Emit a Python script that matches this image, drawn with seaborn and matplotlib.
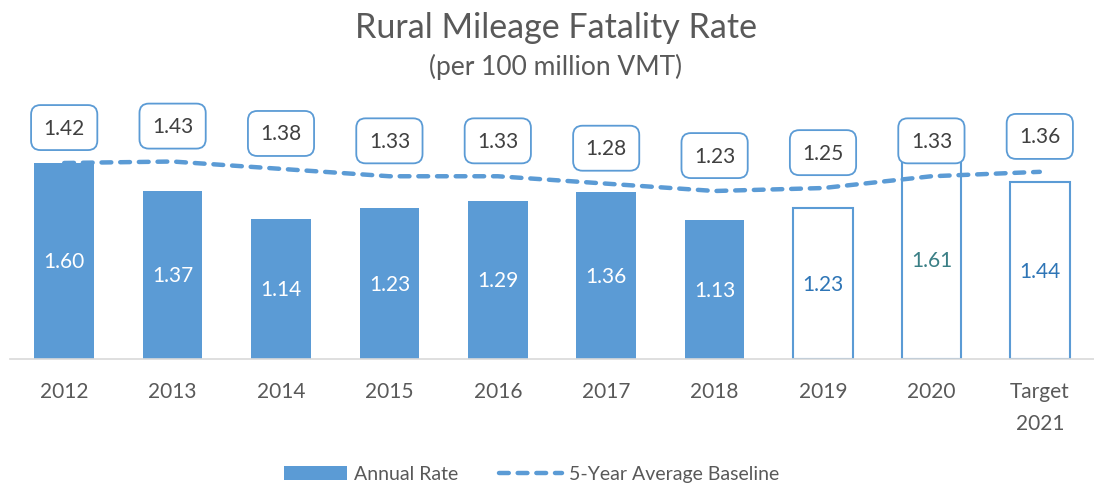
import numpy as np
import pandas as pd
import matplotlib
matplotlib.use("Agg")
import matplotlib.pyplot as plt
import seaborn as sns
from matplotlib.patches import Patch
from matplotlib.lines import Line2D

categories = ["2012", "2013", "2014", "2015", "2016", "2017", "2018", "2019", "2020", "Target\n2021"]
annual_rate = [1.60, 1.37, 1.14, 1.23, 1.29, 1.36, 1.13, 1.23, 1.61, 1.44]
five_year_avg = [1.42, 1.43, 1.38, 1.33, 1.33, 1.28, 1.23, 1.25, 1.33, 1.36]
n_actual = 7  # first seven bars are filled (actual), rest outlined

BLUE = "#5B9BD5"
GRAY = "#595959"
inner_colors = ["white"] * 7 + ["#2E75B6", "#3A7F85", "#2E75B6"]

sns.set_theme(style="white")
plt.rcParams["font.family"] = ["Lato", "DejaVu Sans"]

W, H = 1094, 489
fig = plt.figure(figsize=(W / 100, H / 100), dpi=100)
ax = fig.add_axes([10 / W, (H - 360) / H, 1084 / W, 260 / H])

df = pd.DataFrame({"cat": categories, "rate": annual_rate, "avg": five_year_avg})
sns.barplot(data=df, x="cat", y="rate", color=BLUE, saturation=1, width=0.55, ax=ax, zorder=2)
for i, p in enumerate(ax.patches):
    if i >= n_actual:
        p.set_facecolor("white")
        p.set_edgecolor(BLUE)
        p.set_linewidth(1.5)
    else:
        p.set_edgecolor("none")
    ax.text(p.get_x() + p.get_width() / 2, p.get_height() / 2, f"{annual_rate[i]:.2f}",
            ha="center", va="center", fontsize=15, color=inner_colors[i], zorder=3)

ax.set_ylim(0, 260 / 122.6)
ax.set_xlim(-0.5, len(categories) - 0.5)
ax.set_xlabel("")
ax.set_ylabel("")
ax.set_yticks([])
for s in ["top", "left", "right"]:
    ax.spines[s].set_visible(False)
ax.spines["bottom"].set_color("#D9D9D9")
ax.spines["bottom"].set_linewidth(1.2)
ax.tick_params(axis="x", length=0, pad=16, labelsize=15, labelcolor=GRAY)
for t in ax.get_xticklabels():
    t.set_linespacing(1.75)

ax2 = ax.twinx()
xpos = np.arange(len(categories))
sns.lineplot(x=xpos, y=five_year_avg, ax=ax2, color=BLUE, linewidth=3.2, zorder=4)
line = ax2.lines[0]
line.set_dashes((2.2, 2.0))
line.set_dash_capstyle("round")
ax2.set_ylim((373.3 - 360) / 147.4, (373.3 - 100) / 147.4)
ax2.set_xlim(-0.5, len(categories) - 0.5)
ax2.set_yticks([])
ax2.set_ylabel("")
for s in ax2.spines.values():
    s.set_visible(False)

for x, v in zip(xpos, five_year_avg):
    ax2.annotate(f"{v:.2f}", (x, v), xytext=(0, 25.5), textcoords="offset points",
                 ha="center", va="center", fontsize=15, color="#404040", zorder=5,
                 annotation_clip=False,
                 bbox=dict(boxstyle="round,pad=0.6,rounding_size=0.45", fc="white", ec=BLUE, lw=1.3))

fig.text(556 / W, 1 - 28 / H, "Rural Mileage Fatality Rate", ha="center", va="center",
         fontsize=24.5, color=GRAY)
fig.text(556 / W, 1 - 67 / H, "(per 100 million VMT)", ha="center", va="center",
         fontsize=19, color=GRAY)

handles = [Patch(facecolor=BLUE, edgecolor="none"),
           Line2D([0], [0], color=BLUE, linewidth=3.2, dashes=(2.2, 2.0), dash_capstyle="round")]
fig.legend(handles, ["Annual Rate", "5-Year Average Baseline"], loc="center",
           bbox_to_anchor=(532 / W, 14 / H), ncol=2, frameon=False, fontsize=14,
           labelcolor=GRAY, handlelength=3.2, handleheight=0.7, columnspacing=2.1, handletextpad=0.4)

fig.savefig("out.png", dpi=100)
